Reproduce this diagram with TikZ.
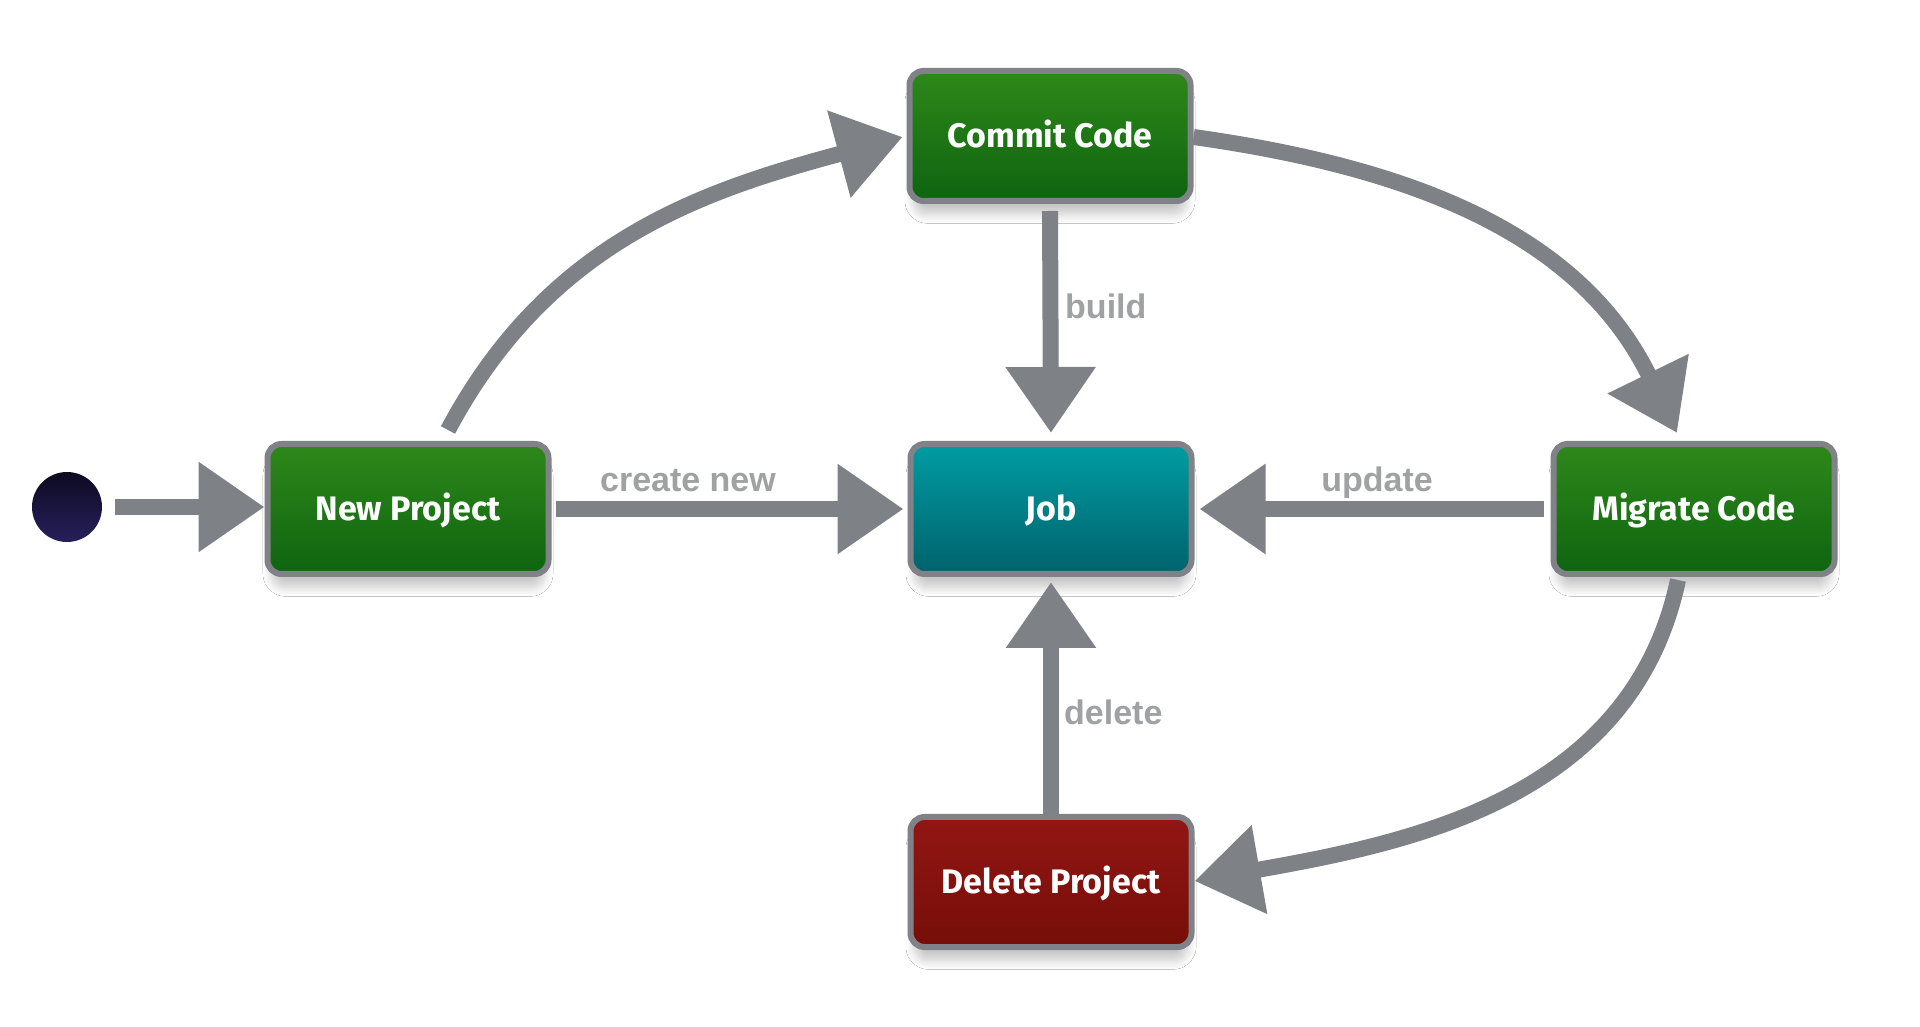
\documentclass[tikz,border=0pt]{standalone}
\usepackage{fontspec}
\setmainfont{Fira Sans}
\newfontfamily\labelfont{Liberation Sans}
\usetikzlibrary{arrows.meta,shadows.blur}

\definecolor{arrowgray}{RGB}{126,129,134}
\definecolor{bordergray}{RGB}{128,130,135}
\definecolor{labelgray}{RGB}{160,161,163}
\definecolor{greentop}{RGB}{46,136,26}
\definecolor{greenbot}{RGB}{14,100,16}
\definecolor{tealtop}{RGB}{0,156,162}
\definecolor{tealbot}{RGB}{0,98,108}
\definecolor{redtop}{RGB}{146,22,20}
\definecolor{redbot}{RGB}{118,14,8}
\definecolor{dottop}{RGB}{14,10,32}
\definecolor{dotbot}{RGB}{38,32,92}

\begin{document}
\begin{tikzpicture}[x=1pt,y=1pt,
  statebox/.style={draw=bordergray, line width=6pt, rounded corners=14pt,
    minimum width=281pt, minimum height=130pt, inner sep=0pt,
    font=\bfseries\fontsize{34}{40}\selectfont, text=white,
    text height=23.5pt, text depth=0pt,
    blur shadow={shadow xshift=0pt, shadow yshift=-16pt, shadow scale=0.97,
      shadow blur radius=9pt, shadow blur steps=12, shadow opacity=22}},
  greenbox/.style={statebox, top color=greentop, bottom color=greenbot},
  tealbox/.style={statebox, top color=tealtop, bottom color=tealbot},
  redbox/.style={statebox, top color=redtop, bottom color=redbot},
  startdot/.style={circle, minimum size=70pt, inner sep=0pt,
    top color=dottop, bottom color=dotbot},
  flow/.style={draw=arrowgray, line width=16pt,
    -{Triangle[length=66pt,width=86pt]}},
  lbl/.style={font=\labelfont\bfseries\fontsize{34}{40}\selectfont,
    text=labelgray, inner sep=0pt}
]
\useasboundingbox (0,0) rectangle (1920,1026);
\fill[white] (0,0) rectangle (1920,1026);

\node[startdot] (start) at (67,519) {};
\node[greenbox] (np)  at (408,517)  {New Project};
\node[greenbox] (cc)  at (1050,890) {Commit Code};
\node[tealbox]  (job) at (1051,517) {Job};
\node[greenbox] (mig) at (1694,517) {Migrate Code};
\node[redbox]   (del) at (1051,144) {Delete Project};

\draw[flow, shorten <=13pt] (start.east) -- (start.east -| np.west);
\draw[flow, shorten <=4pt, shorten >=4pt] (np.east) -- (job.west);
\draw[flow, shorten <=7pt, shorten >=5pt] (mig.west) -- (job.east);
\draw[flow, shorten <=7pt, shorten >=8pt] (cc.south) -- (job.north);
\draw[flow, shorten >=5pt] (del.north) -- (job.south);

\draw[flow, shorten >=4pt] ([xshift=40pt,yshift=11pt]np.north) to[out=62,in=195] (cc.west);
\draw[flow] ([yshift=-1pt]cc.east) to[out=-8,in=116] ([xshift=-17pt,yshift=8pt]mig.north);
\draw[flow] ([xshift=-16pt,yshift=-3pt]mig.south) to[out=258,in=10] ([yshift=1pt]del.east);

\node[lbl, anchor=base] (lcreate) at (688,534) {create new};
\node[lbl, anchor=base] (lupdate) at (1377,534) {update};
\node[lbl, anchor=base west] (lbuild) at (1065,707) {build};
\node[lbl, anchor=base west] (ldelete) at (1064,301) {delete};
\end{tikzpicture}
\end{document}
